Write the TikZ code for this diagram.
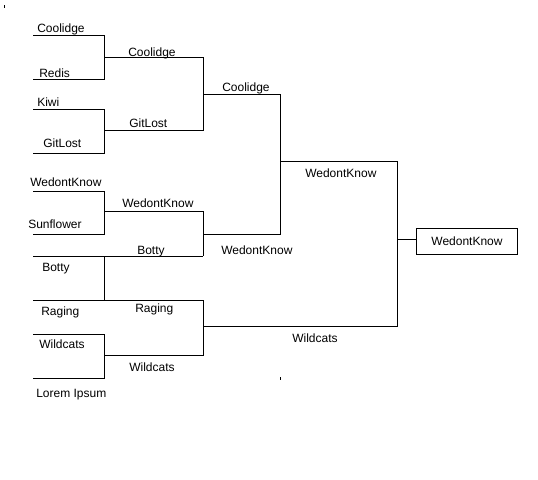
\documentclass[tikz,border=0pt]{standalone}
\usepackage{fontspec}
\setmainfont{Liberation Sans}
\usetikzlibrary{positioning}
\tikzset{
  font=\fontsize{9}{11}\selectfont,        % 12px text everywhere
  team/.style     = {anchor=base west, inner sep=0pt},
  wire/.style     = {line width=0.75pt},
  champbox/.style = {draw, line width=0.75pt, inner sep=0pt,
                     minimum width=76.3pt, minimum height=19.5pt}
}
\begin{document}
\begin{tikzpicture}
  \begin{scope}[x=0.75pt, y=-0.75pt]
    \useasboundingbox (0,0) rectangle (538,479);
    % round 1
    \draw[wire] (33,35) -- (104,35) -- (104,79) -- (33,79);
    \draw[wire] (33,109) -- (104,109) -- (104,153) -- (33,153);
    \draw[wire] (33,191) -- (104,191) -- (104,234) -- (33,234);
    \draw[wire] (33,256) -- (203,256);
    \draw[wire] (104,256) -- (104,300);
    \draw[wire] (33,300) -- (203,300);
    \draw[wire] (33,334) -- (104,334) -- (104,378) -- (33,378);
    % round 2
    \draw[wire] (104,57) -- (203,57) -- (203,130) -- (104,130);
    \draw[wire] (104,211) -- (203,211) -- (203,256);
    \draw[wire] (203,300) -- (203,355) -- (104,355);
    % round 3 and 4
    \draw[wire] (203,94) -- (280,94) -- (280,234) -- (203,234);
    \draw[wire] (203,326) -- (397,326) -- (397,161) -- (280,161);
    % stray marks
    \draw[wire] (4.5,5) -- (4.5,7.5);
    \draw[wire] (280.5,377) -- (280.5,380);
    % winner
    \node[champbox] (champ) at (467,241.3) {WedontKnow};
    \coordinate (semi) at (397,239);
    \draw[wire] (semi) -- (semi -| champ.west);
    % labels, round 1
    \node[team] (t1) at (37,32) {Coolidge};
    \node[team] (t2) at (39,77) {Redis};
    \node[team] (t3) at (37,106) {Kiwi};
    \node[team] (t4) at (43,147.5) {GitLost};
    \node[team] (t5) at (30,186.5) {WedontKnow};
    \node[team] (t6) at (28,228.5) {Sunflower};
    \node[team] (t7) at (42,271.5) {Botty};
    \node[team] (t8) at (41,315.5) {Raging};
    \node[team] (t9) at (39,348.5) {Wildcats};
    \node[team] (t10) at (36,397.5) {Lorem Ipsum};
    % labels, round 2
    \node[team] (q1) at (128,56) {Coolidge};
    \node[team] (q2) at (129,127.5) {GitLost};
    \node[team] (q3) at (122,207) {WedontKnow};
    \node[team] (q4) at (137,254) {Botty};
    \node[team] (q5) at (135,312.5) {Raging};
    \node[team] (q6) at (129,371.5) {Wildcats};
    % labels, round 3 and 4
    \node[team] (s1) at (222,91.5) {Coolidge};
    \node[team] (s2) at (221,254.5) {WedontKnow};
    \node[team] (s3) at (292,342.5) {Wildcats};
    \node[team] (f1) at (305,177.5) {WedontKnow};
  \end{scope}
\end{tikzpicture}
\end{document}
